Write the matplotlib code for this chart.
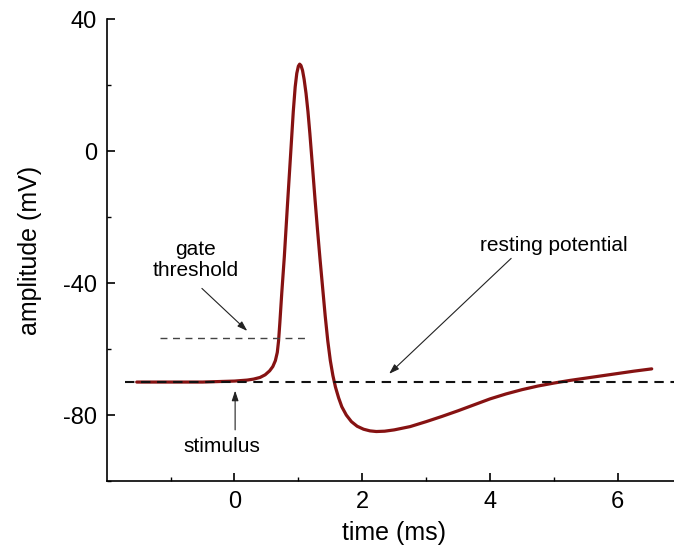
import matplotlib
matplotlib.use("Agg")
import matplotlib.pyplot as plt

# ---- data ----
time_ms = [-1.53, -1.0, -0.5, 0.0, 0.2, 0.3, 0.4, 0.48, 0.55, 0.6, 0.64, 0.67, 0.69,
           0.71, 0.74, 0.78, 0.83, 0.88, 0.92, 0.95, 0.975, 1.0, 1.02, 1.04, 1.065,
           1.09, 1.12, 1.15, 1.18, 1.22, 1.26, 1.30, 1.34, 1.38, 1.42, 1.46, 1.50,
           1.54, 1.58, 1.63, 1.68, 1.75, 1.83, 1.92, 2.02, 2.12, 2.22, 2.35, 2.5,
           2.75, 3.0, 3.25, 3.5, 3.75, 4.0, 4.25, 4.5, 4.75, 5.0, 5.25, 5.5, 5.75,
           6.0, 6.25, 6.53]
voltage_mV = [-70, -70, -70, -69.7, -69.4, -69.1, -68.6, -67.8, -66.6, -65.3, -63.5, -61.0, -57.5,
              -52.0, -43.0, -32.0, -16.0, -0.5, 12.0, 19.5, 23.6, 25.8, 26.4, 26.0, 24.5,
              21.8, 17.5, 12.0, 5.3, -4.5, -14.5, -24.0, -33.0, -41.5, -50.0, -57.5, -63.5,
              -68.0, -71.5, -74.8, -77.5, -80.0, -82.0, -83.4, -84.3, -84.8, -85.0, -84.9, -84.5,
              -83.5, -82.0, -80.4, -78.7, -76.9, -75.1, -73.6, -72.3, -71.2, -70.3, -69.5, -68.8, -68.1,
              -67.4, -66.7, -66.0]

resting_level = -70
resting_span = [-1.72, 7.0]
threshold_level = -56.5
threshold_span = [-1.17, 1.18]

x_ticks = [0, 2, 4, 6]
y_ticks = [-80, -40, 0, 40]
x_minor = [-1, 1, 3, 5, 7]
y_minor = [-100, -60, -20, 20]

plt.rcParams['font.family'] = ['Liberation Sans', 'DejaVu Sans']
plt.rcParams['axes.unicode_minus'] = False

fig = plt.figure(figsize=(6.74, 5.56), dpi=100)
ax = fig.add_axes([0.1583, 0.1349, 0.8532, 0.8304])

ax.plot(resting_span, [resting_level, resting_level], color='#111111', lw=1.5,
        dashes=(4.5, 3.2), zorder=3)
ax.plot(time_ms, voltage_mV, color='#861212', lw=2.3, solid_joinstyle='round',
        solid_capstyle='round', zorder=2)
ax.plot(threshold_span, [threshold_level, threshold_level], color='#444444', lw=1.0,
        dashes=(5, 4), zorder=3)

ax.set_xlim(-2, 7)
ax.set_ylim(-100, 40)
ax.set_xticks(x_ticks)
ax.set_yticks(y_ticks)
ax.set_xticks(x_minor, minor=True)
ax.set_yticks(y_minor, minor=True)
ax.tick_params(which='major', direction='in', length=6, width=1.2, labelsize=17, pad=7)
ax.tick_params(which='minor', direction='in', length=3, width=1.0)
for s in ['top', 'right']:
    ax.spines[s].set_visible(False)
for s in ['left', 'bottom']:
    ax.spines[s].set_linewidth(1.2)

ax.set_xlabel('time (ms)', fontsize=18, labelpad=6)
ax.set_ylabel('amplitude (mV)', fontsize=18, labelpad=15)

arrow = dict(arrowstyle='-|>,head_length=0.6,head_width=0.2', color='#222222', lw=0.8,
             shrinkA=0, shrinkB=0)
ax.text(-0.61, -33.0, 'gate\nthreshold', ha='center', va='center', fontsize=15,
        linespacing=1.1)
ax.annotate('', xy=(0.20, -54.5), xytext=(-0.51, -41.6), arrowprops=arrow)
ax.text(-0.2, -89.5, 'stimulus', ha='center', va='center', fontsize=15)
ax.annotate('', xy=(0.01, -72.6), xytext=(0.01, -84.5), arrowprops=arrow)
ax.text(5.0, -28.5, 'resting potential', ha='center', va='center', fontsize=15)
ax.annotate('', xy=(2.42, -67.5), xytext=(4.33, -32.5), arrowprops=arrow)

fig.savefig('out.png', dpi=100)
